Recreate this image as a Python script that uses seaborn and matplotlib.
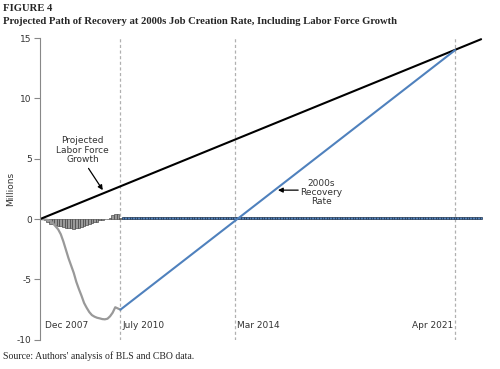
import numpy as np
import pandas as pd
import matplotlib
matplotlib.use("Agg")
import matplotlib.pyplot as plt
import seaborn as sns

# ---- data (months since Dec 2007) ----
emp_months = list(range(0, 32))
emp_change = [0, -0.01, -0.03, -0.07, -0.15, -0.35, -0.6, -0.85, -1.25, -1.85, -2.55,
              -3.25, -3.85, -4.45, -5.2, -5.8, -6.35, -6.95, -7.35, -7.7, -7.95,
              -8.08, -8.17, -8.22, -8.28, -8.3, -8.25, -8.05, -7.75, -7.3, -7.4, -7.5]

bar_months = list(range(1, 32))
bar_values = [0, -0.05, -0.2, -0.38, -0.42, -0.48, -0.55, -0.6, -0.65, -0.72, -0.77,
              -0.77, -0.78, -0.77, -0.75, -0.68, -0.6, -0.48, -0.38, -0.3, -0.25,
              -0.2, -0.1, -0.05, -0.02, 0.05, 0.1, 0.3, 0.4, 0.45, 0.1]

proj_months = list(range(32, 171))
proj_rate = 0.17  # 2000s monthly job creation (millions)
proj_values = [proj_rate] * len(proj_months)

labor_months = [0, 170]
labor_values = [0, 14.9]

recovery_months = [31, 160]
recovery_values = [-7.5, 14.0]

event_months = [31, 75, 160]
event_labels = ["July 2010", "Mar 2014", "Apr 2021"]
yticks = [-10, -5, 0, 5, 10, 15]

# ---- style ----
sns.set_theme(style="white")
plt.rcParams['font.family'] = ['DejaVu Sans']

fig = plt.figure(figsize=(5.0, 3.69), dpi=100)
ax = fig.add_axes([0.08, 0.079, 0.89, 0.818])

gray_bar = "#9a9a9a"
blue = "#4f81bd"

sns.barplot(x=bar_months, y=bar_values, native_scale=True, color=gray_bar,
            edgecolor="#333333", linewidth=0.4, width=1.0, errorbar=None,
            saturation=1, ax=ax)
sns.barplot(x=proj_months, y=proj_values, native_scale=True, color=blue,
            edgecolor="#1f3550", linewidth=0.5, width=1.0, errorbar=None,
            saturation=1, ax=ax)

sns.lineplot(x=emp_months, y=emp_change, color="#999999", linewidth=1.6, ax=ax)
sns.lineplot(x=labor_months, y=labor_values, color="black", linewidth=1.5, ax=ax)
sns.lineplot(x=recovery_months, y=recovery_values, color=blue, linewidth=1.5, ax=ax)

for m in event_months:
    ax.axvline(m, color="#b0b0b0", linestyle=(0, (2.5, 2)), linewidth=0.9, zorder=0)

ax.set_xlim(0, 171.5)
ax.set_ylim(-10, 15)
ax.set_yticks(yticks)
ax.set_yticklabels([str(t) for t in yticks], fontsize=6.5, color="#333333")
ax.set_xticks([])
ax.set_xlabel("")
ax.set_ylabel("Millions", fontsize=6.5, color="#333333", labelpad=0)
ax.yaxis.set_label_coords(-0.057, 0.5)
ax.tick_params(axis="y", direction="out", length=4, width=0.8, color="#888888", left=True, pad=2)
for s in ["top", "right", "bottom"]:
    ax.spines[s].set_visible(False)
ax.spines["left"].set_color("#888888")
ax.spines["left"].set_linewidth(0.8)

txt = dict(fontsize=6.5, color="#333333")
ax.text(1.8, -8.8, "Dec 2007", ha="left", va="center", **txt)
ax.text(event_months[0] + 0.8, -8.8, event_labels[0], ha="left", va="center", **txt)
ax.text(event_months[1] + 0.8, -8.8, event_labels[1], ha="left", va="center", **txt)
ax.text(event_months[2] - 0.8, -8.8, event_labels[2], ha="right", va="center", **txt)

ax.text(16.5, 5.7, "Projected\nLabor Force\nGrowth", ha="center", va="center",
        linespacing=1.05, **txt)
ax.annotate("", xy=(24.2, 2.4), xytext=(18.7, 4.2),
            arrowprops=dict(arrowstyle="-|>", color="black", lw=0.9, mutation_scale=7,
                            shrinkA=0, shrinkB=0))
ax.text(108.5, 2.2, "2000s\nRecovery\nRate", ha="center", va="center",
        linespacing=1.05, **txt)
ax.annotate("", xy=(91.7, 2.4), xytext=(99.5, 2.4),
            arrowprops=dict(arrowstyle="-|>", color="black", lw=0.9, mutation_scale=7,
                            shrinkA=0, shrinkB=0))

fig.text(0.006, 0.99, "FIGURE 4", fontsize=7.7, fontweight="bold",
         family="Liberation Serif", ha="left", va="top")
fig.text(0.006, 0.955, "Projected Path of Recovery at 2000s Job Creation Rate, Including Labor Force Growth",
         fontsize=7.7, fontweight="bold", family="Liberation Serif", ha="left", va="top")
fig.text(0.006, 0.035, "Source: Authors' analysis of BLS and CBO data.", fontsize=7,
         family="Liberation Serif", ha="left", va="center")

fig.savefig("out.png", dpi=100, facecolor="white")
